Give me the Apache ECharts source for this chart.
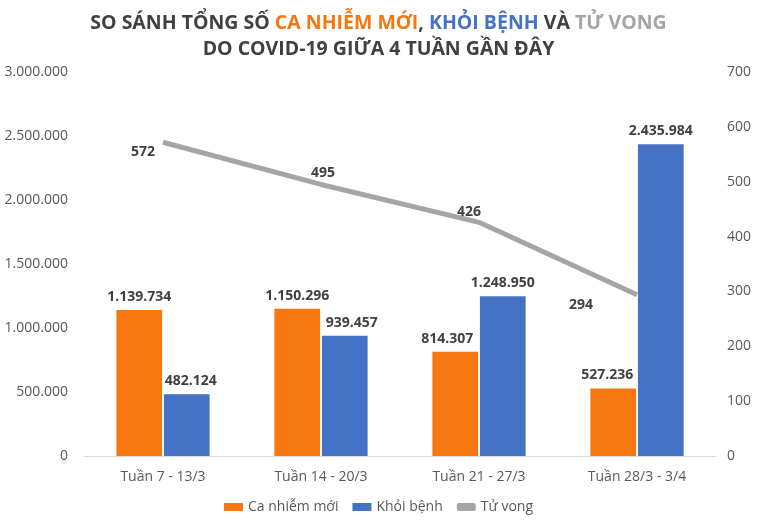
<!DOCTYPE html>
<html>
<head>
<meta charset="utf-8">
<script src="https://cdn.jsdelivr.net/npm/echarts@6/dist/echarts.min.js"></script>
<style>html,body{margin:0;padding:0;background:#fff}#c{width:757px;height:525px}</style>
</head>
<body>
<div id="c"></div>
<script>
var categories = ['Tuần 7 - 13/3', 'Tuần 14 - 20/3', 'Tuần 21 - 27/3', 'Tuần 28/3 - 3/4'];
var caNhiemMoi = [1139734, 1150296, 814307, 527236];
var khoiBenh = [482124, 939457, 1248950, 2435984];
var tuVong = [572, 495, 426, 294];
var leftTicks = {min: 0, max: 3000000, interval: 500000};
var rightTicks = {min: 0, max: 700, interval: 100};

var FONT = '"Open Sans", "Noto Sans", sans-serif';
var ORANGE = '#F6760F', BLUE = '#4472C4', GRAY = '#A5A5A5', DARK = '#404040';
function fmt(v) { return String(v).replace(/\B(?=(\d{3})+(?!\d))/g, '.'); }

// label placement (style only)
var orangeLabelShift = [0, 0, -8, -6];
var blueLabelShift = [4, 7, 0, 0];
var lineLabelPos = ['left', 'top', 'top', 'left'];
var lineLabelOff = [[-2, 10], [2, 2], [-10, 3], [-38, 10]];

function barData(values, shifts) {
  return values.map(function (v, i) { return {value: v, label: {offset: [shifts[i], 0]}}; });
}

var chart = echarts.init(document.getElementById('c'));
var TS = 19.5;
chart.setOption({
  animation: false,
  title: {
    left: 'center', top: 5,
    text: '{d|SO SÁNH TỔNG SỐ }{o|CA NHIỄM MỚI}{d|, }{b|KHỎI BỆNH}{d| VÀ }{g|TỬ VONG}\n{d|DO COVID-19 GIỮA 4 TUẦN GẦN ĐÂY}',
    textStyle: {
      fontFamily: FONT, fontWeight: 'bold', fontSize: TS, lineHeight: 26,
      rich: {
        d: {color: DARK, fontWeight: 'bold', fontSize: TS, fontFamily: FONT, lineHeight: 26},
        o: {color: ORANGE, fontWeight: 'bold', fontSize: TS, fontFamily: FONT, lineHeight: 26},
        b: {color: BLUE, fontWeight: 'bold', fontSize: TS, fontFamily: FONT, lineHeight: 26},
        g: {color: GRAY, fontWeight: 'bold', fontSize: TS, fontFamily: FONT, lineHeight: 26}
      }
    }
  },
  legend: {
    bottom: 6, left: 'center', itemGap: 14, itemWidth: 19, itemHeight: 8,
    textStyle: {fontFamily: FONT, fontSize: 14, color: '#595959'},
    data: [
      {name: 'Ca nhiễm mới', icon: 'rect'},
      {name: 'Khỏi bệnh', icon: 'rect'},
      {name: 'Tử vong', icon: 'roundRect'}
    ]
  },
  grid: {left: 84, right: 41, top: 72, bottom: 69, containLabel: false},
  xAxis: {
    type: 'category', data: categories,
    axisLine: {lineStyle: {color: '#D9D9D9'}},
    axisTick: {show: false},
    axisLabel: {fontFamily: FONT, fontSize: 14, color: '#595959', margin: 14}
  },
  yAxis: [
    {
      type: 'value', min: leftTicks.min, max: leftTicks.max, interval: leftTicks.interval,
      splitLine: {show: false}, axisLine: {show: false}, axisTick: {show: false},
      axisLabel: {fontFamily: FONT, fontSize: 14, color: '#595959', margin: 16, formatter: fmt}
    },
    {
      type: 'value', min: rightTicks.min, max: rightTicks.max, interval: rightTicks.interval,
      splitLine: {show: false}, axisLine: {show: false}, axisTick: {show: false},
      axisLabel: {fontFamily: FONT, fontSize: 14, color: '#595959', margin: 11}
    }
  ],
  series: [
    {
      name: 'Ca nhiễm mới', type: 'bar', data: barData(caNhiemMoi, orangeLabelShift), yAxisIndex: 0, z: 3,
      barGap: '4%', barCategoryGap: '41%',
      itemStyle: {color: ORANGE},
      label: {show: true, position: 'top', distance: 6, fontFamily: FONT, fontWeight: 'bold', fontSize: 14, color: DARK,
        formatter: function (p) { return fmt(p.value); }}
    },
    {
      name: 'Khỏi bệnh', type: 'bar', data: barData(khoiBenh, blueLabelShift), yAxisIndex: 0, z: 3,
      barGap: '4%', barCategoryGap: '41%',
      itemStyle: {color: BLUE},
      label: {show: true, position: 'top', distance: 6, fontFamily: FONT, fontWeight: 'bold', fontSize: 14, color: DARK,
        formatter: function (p) { return fmt(p.value); }}
    },
    {
      name: 'Tử vong', type: 'line', yAxisIndex: 1, z: 2,
      data: tuVong.map(function (v, i) {
        return {value: v, label: {position: lineLabelPos[i], offset: lineLabelOff[i]}};
      }),
      symbol: 'circle', symbolSize: 0.1, showSymbol: true,
      lineStyle: {color: GRAY, width: 5},
      itemStyle: {color: GRAY},
      label: {show: true, distance: 6, fontFamily: FONT, fontWeight: 'bold', fontSize: 14, color: DARK}
    }
  ]
});
</script>
</body>
</html>
